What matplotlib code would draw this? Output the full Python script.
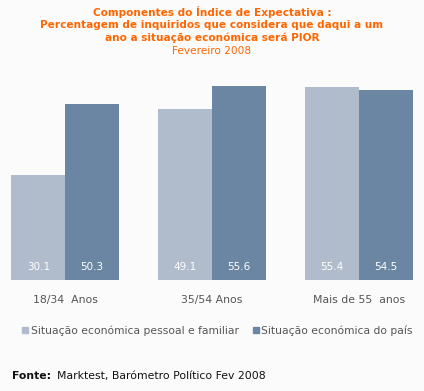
import numpy as np
import matplotlib
matplotlib.use("Agg")
import matplotlib.pyplot as plt
from matplotlib.lines import Line2D

# data
categories = ["18/34  Anos", "35/54 Anos", "Mais de 55  anos"]
pessoal = [30.1, 49.1, 55.4]
pais = [50.3, 55.6, 54.5]
series_names = ["Situação económica pessoal e familiar", "Situação económica do país"]

light = "#b0bccc"
dark = "#6a86a3"
bg = "#fbfbfb"
orange = "#ff6600"

W, H = 424, 391
fig = plt.figure(figsize=(W / 100, H / 100), dpi=100, facecolor=bg)

# axes: bottom of bars at y=280px, tallest bar top at 86px
ax = fig.add_axes([0, 1 - 280 / H, 1, (280 - 86) / H])
ax.set_facecolor(bg)
x = np.arange(len(categories))
w = 0.364
ax.bar(x - w / 2, pessoal, w, color=light)
ax.bar(x + w / 2, pais, w, color=dark)
ax.set_xlim(-65 / 147, (W - 65) / 147)
ax.set_ylim(0, max(pais + pessoal))

for xi, v in zip(x - w / 2, pessoal):
    ax.text(xi, 3.7, f"{v:.1f}", color="white", ha="center", va="center", fontsize=7.5)
for xi, v in zip(x + w / 2, pais):
    ax.text(xi, 3.7, f"{v:.1f}", color="white", ha="center", va="center", fontsize=7.5)

ax.set_xticks(x)
ax.set_xticklabels(categories, fontsize=7.8, color="#555555")
ax.tick_params(axis="x", length=0, pad=10.5)
ax.set_yticks([])
for s in ax.spines.values():
    s.set_visible(False)

# title
fig.text(0.5, 1 - 12 / H, "Componentes do Índice de Expectativa :", ha="center", va="center",
         color=orange, fontsize=7.6, fontweight="bold")
fig.text(0.5, 1 - 25 / H, "Percentagem de inquiridos que considera que daqui a um", ha="center",
         va="center", color=orange, fontsize=7.6, fontweight="bold")
fig.text(0.5, 1 - 38 / H, "ano a situação económica será PIOR", ha="center", va="center",
         color=orange, fontsize=7.6, fontweight="bold")
fig.text(0.5, 1 - 51 / H, "Fevereiro 2008", ha="center", va="center", color=orange, fontsize=7.6)

# legend
handles = [Line2D([], [], marker="s", linestyle="none", color=c, markersize=5) for c in (light, dark)]
fig.legend(handles, series_names, loc="center", bbox_to_anchor=(0.51, 1 - 331 / H), ncol=2,
           frameon=False, fontsize=7.75, handletextpad=0.0, columnspacing=1.1, handlelength=1.0,
           labelcolor="#555555")

# source
fig.text(12 / W, 1 - 376 / H, "Fonte:", ha="left", va="center", fontsize=7.8, fontweight="bold",
         color="#111111")
fig.text(57 / W, 1 - 376 / H, "Marktest, Barómetro Político Fev 2008", ha="left", va="center",
         fontsize=7.8, color="#111111")

fig.savefig("out.png", dpi=100, facecolor=bg)
